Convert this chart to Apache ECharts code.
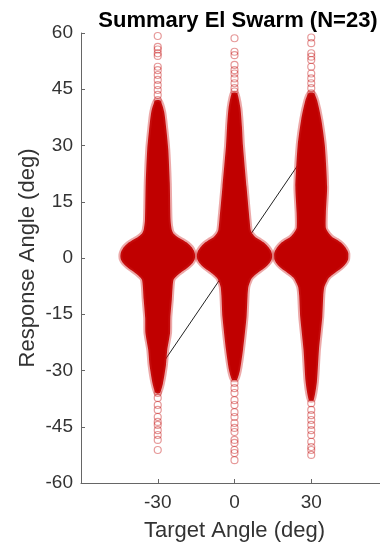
<!DOCTYPE html>
<html>
<head>
<meta charset="utf-8">
<script src="https://cdn.jsdelivr.net/npm/echarts@6/dist/echarts.min.js"></script>
<style>
  html, body { margin: 0; padding: 0; background: #fff; }
  #chart { width: 380px; height: 547px; }
</style>
</head>
<body>
<div id="chart"></div>
<script>
// Target angles (deg) — one swarm per target
const targetAngles = [-30, 0, 30];

// Swarm outline of the dense core: [response angle, half-width in x-units]
const profileMinus30 = [
  [42, 1.0], [39, 2.5], [34, 3.4], [29, 4.1], [20, 4.7], [10, 5.0], [7.5, 5.5], [6.5, 6.2],
  [5.5, 8.0], [4.8, 9.8], [3.9, 11.8], [2.9, 13.3], [2.0, 14.1], [1.2, 14.5], [0.4, 14.6],
  [-0.4, 14.4], [-1.3, 13.6], [-2.3, 12.1], [-3.2, 10.4], [-4.2, 8.4], [-5.2, 6.8], [-5.9, 6.1],
  [-7.7, 5.8], [-11, 5.5], [-16, 4.9], [-20, 4.8], [-24.5, 3.7], [-28.5, 3.2],
  [-33.5, 2.0], [-36, 0.8]
];
const profileZero = [
  [44, 1.0], [40, 2.3], [35, 2.9], [30, 3.3], [19, 4.7], [10, 5.9], [7.5, 6.3], [6.5, 7.0],
  [5.5, 8.3], [4.8, 10.0], [3.9, 11.9], [2.9, 13.3], [2.0, 14.2], [1.2, 14.6], [0.4, 14.7],
  [-0.4, 14.5], [-1.3, 13.7], [-2.3, 12.3], [-3.2, 10.6], [-4.2, 8.6], [-5.2, 7.0], [-5.9, 6.3],
  [-7.7, 5.4], [-10, 5.1], [-15.7, 4.7], [-24.5, 3.3], [-30, 2.1], [-32.5, 0.9]
];
const profilePlus30 = [
  [44, 1.0], [42, 2.3], [37, 3.9], [30, 5.3], [19, 6.2], [12, 5.7], [8, 5.7], [6.5, 7.0],
  [5.5, 8.4], [4.8, 10.2], [3.9, 12.0], [2.9, 13.3], [2.0, 14.1], [1.2, 14.5], [0.4, 14.5],
  [-0.4, 14.4], [-1.3, 13.7], [-2.3, 12.4], [-3.2, 10.8], [-4.2, 8.8], [-5.2, 7.0], [-5.9, 6.3],
  [-7.7, 5.1], [-10, 4.7], [-15.7, 4.3], [-24.5, 3.0], [-33, 2.2], [-37.9, 0.9]
];

// Sparse individual responses beyond the dense core (deg)
const tailMinus30 = [
  59.2, 56.3, 55.6, 54.6, 53.9, 51.0, 50.1, 48.8, 47.5, 46.1, 44.8, 43.5, 42.1,
  -36.0, -37.3, -39.2, -40.5, -42.4, -43.7, -44.5, -45.9, -47.2, -48.5, -51.2
];
const tailZero = [
  58.6, 55.0, 54.1, 51.5, 50.1, 49.2, 47.9, 46.6, 45.3, 44.4,
  -33.3, -34.7, -36.0, -37.9, -39.2, -41.1, -42.4, -44.0, -45.3, -46.4, -48.5, -49.3, -51.2, -52.0, -53.9
];
const tailPlus30 = [
  58.8, 57.3, 54.6, 53.7, 52.8, 51.0, 49.2, 47.9, 46.6, 45.3, 43.9,
  -38.7, -40.5, -41.9, -43.2, -44.5, -45.9, -47.2, -49.0, -50.4, -51.2, -52.5
];

// Identity (response = target) reference line
const identityLine = [[-30, -30], [30, 30]];

const profiles = [profileMinus30, profileZero, profilePlus30];
const tails = [tailMinus30, tailZero, tailPlus30];

const swarmRed = '#c00000';
const tailPoints = [];
targetAngles.forEach((t, i) => tails[i].forEach(v => tailPoints.push([t, v])));

const chart = echarts.init(document.getElementById('chart'), null, { renderer: 'canvas' });

const axisTextColor = '#333';
const fontFamily = 'Liberation Sans, Arial, Helvetica, sans-serif';

chart.setOption({
  animation: false,
  backgroundColor: '#fff',
  title: {
    text: 'Summary El Swarm (N=23)',
    left: 233, top: 5,
    textAlign: 'center',
    textStyle: { fontSize: 22, fontWeight: 'bold', color: '#000', fontFamily }
  },
  grid: { left: 81, top: 33, width: 307, bottom: 64, outerBoundsMode: 'none', containLabel: false },
  xAxis: {
    type: 'value', min: -60, max: 60, interval: 30,
    name: 'Target Angle (deg)', nameLocation: 'middle', nameGap: 37, nameMoveOverlap: false,
    nameTextStyle: { fontSize: 22, color: axisTextColor, fontFamily },
    axisLine: { show: true, onZero: false, lineStyle: { color: '#666', width: 1 } },
    axisTick: { show: true, inside: true, length: 4, lineStyle: { color: '#666' } },
    axisLabel: {
      showMinLabel: false, showMaxLabel: false, margin: 10,
      fontSize: 19, color: axisTextColor, fontFamily
    },
    splitLine: { show: false }
  },
  yAxis: {
    type: 'value', min: -60, max: 60, interval: 15,
    name: 'Response Angle (deg)', nameLocation: 'middle', nameGap: 42, nameRotate: 90,
    nameMoveOverlap: false,
    nameTextStyle: { fontSize: 22, color: axisTextColor, fontFamily },
    axisLine: { show: true, onZero: false, lineStyle: { color: '#666', width: 1 } },
    axisTick: { show: true, inside: true, length: 4, lineStyle: { color: '#666' } },
    axisLabel: { margin: 8, fontSize: 19, color: axisTextColor, fontFamily },
    splitLine: { show: false }
  },
  series: [
    {
      type: 'line',
      data: identityLine,
      symbol: 'none',
      lineStyle: { color: '#222', width: 1 },
      z: 1
    },
    {
      type: 'custom',
      data: targetAngles.map((t, i) => [t, i]),
      z: 2,
      renderItem: function (params, api) {
        const cx = api.value(0);
        const prof = profiles[params.dataIndex];
        const right = prof.map(p => api.coord([cx + p[1], p[0]]));
        const left = prof.slice().reverse().map(p => api.coord([cx - p[1], p[0]]));
        return {
          type: 'polygon',
          shape: { points: right.concat(left), smooth: 0.2 },
          style: { fill: swarmRed, stroke: 'rgba(205,30,30,0.38)', lineWidth: 4 }
        };
      }
    },
    {
      type: 'scatter',
      data: tailPoints,
      symbol: 'circle',
      symbolSize: 7,
      itemStyle: { color: 'rgba(255,255,255,0)', borderColor: 'rgba(192,0,0,0.5)', borderWidth: 1.2 },
      z: 3
    }
  ]
});
</script>
</body>
</html>
